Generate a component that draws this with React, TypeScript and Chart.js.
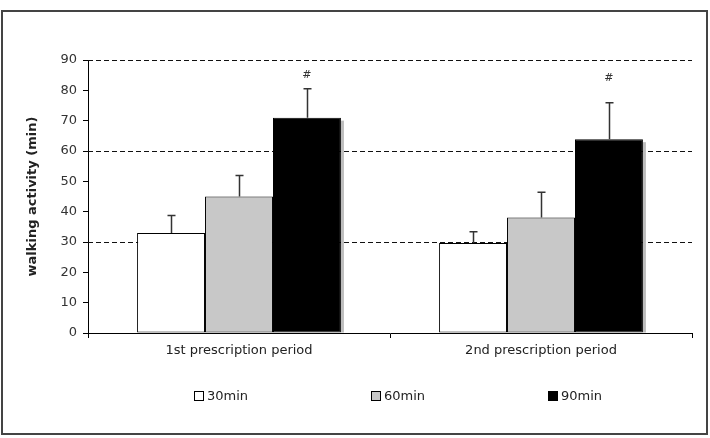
import React, { useEffect, useRef } from "react";
import { Chart, registerables } from "chart.js";

Chart.register(...registerables);

const categories = ["1st prescription period", "2nd prescription period"];
const seriesLabels = ["30min", "60min", "90min"];
const values30 = [33.0, 29.7];
const values60 = [45.0, 38.1];
const values90 = [71.0, 63.9];
const errors30 = [5.7, 3.7];
const errors60 = [6.9, 8.3];
const errors90 = [9.5, 12.0];
const sigMarkY = [85.1, 84.1];
const sigMarkText = ["#", "#"];
const refLines = [30, 60, 90];
const yTicks = [0, 10, 20, 30, 40, 50, 60, 70, 80, 90];

const FONT = "'DejaVu Sans', Verdana, sans-serif";
const barColors = ["#ffffff", "#c8c8c8", "#000000"];
const errorSets = [errors30, errors60, errors90];

const refLinesPlugin = {
  id: "refLines",
  beforeDatasetsDraw(chart: any) {
    const { ctx, chartArea, scales } = chart;
    ctx.save();
    ctx.strokeStyle = "#111";
    ctx.lineWidth = 1;
    ctx.setLineDash([5, 3]);
    refLines.forEach((v) => {
      const y = Math.round(scales.y.getPixelForValue(v)) + 0.5;
      ctx.beginPath();
      ctx.moveTo(chartArea.left, y);
      ctx.lineTo(chartArea.right, y);
      ctx.stroke();
    });
    ctx.restore();
    // shadows on the black bars
    const meta = chart.getDatasetMeta(2);
    ctx.save();
    ctx.fillStyle = "#bdbdbd";
    meta.data.forEach((bar: any) => {
      const right = bar.x + bar.width / 2;
      ctx.fillRect(right, bar.y + 3, 3, bar.base - bar.y - 3);
    });
    ctx.restore();
  },
};

const errorBarPlugin = {
  id: "errorBars",
  afterDatasetsDraw(chart: any) {
    const { ctx, scales } = chart;
    ctx.save();
    ctx.strokeStyle = "#333";
    ctx.lineWidth = 1.5;
    chart.data.datasets.forEach((ds: any, di: number) => {
      const meta = chart.getDatasetMeta(di);
      meta.data.forEach((bar: any, i: number) => {
        const top = scales.y.getPixelForValue(ds.data[i] + errorSets[di][i]);
        const x = Math.round(bar.x) + 0.5;
        ctx.beginPath();
        ctx.moveTo(x, bar.y);
        ctx.lineTo(x, top);
        ctx.moveTo(x - 4, top);
        ctx.lineTo(x + 4, top);
        ctx.stroke();
      });
    });
    // significance marks
    const meta = chart.getDatasetMeta(2);
    ctx.fillStyle = "#333";
    ctx.font = `11px ${FONT}`;
    ctx.textAlign = "center";
    ctx.textBaseline = "middle";
    meta.data.forEach((bar: any, i: number) => {
      ctx.fillText(sigMarkText[i], bar.x, scales.y.getPixelForValue(sigMarkY[i]));
    });
    ctx.restore();
  },
};

const customLegendPlugin = {
  id: "customLegend",
  afterDraw(chart: any) {
    const { ctx, chartArea } = chart;
    ctx.save();
    ctx.font = `13px ${FONT}`;
    ctx.textBaseline = "middle";
    ctx.textAlign = "left";
    const y = chartArea.bottom + 63;
    chart.data.datasets.forEach((ds: any, i: number) => {
      const x = chartArea.left + 106 + i * 177;
      ctx.fillStyle = ds.backgroundColor;
      ctx.fillRect(x, y - 5, 10, 10);
      ctx.strokeStyle = "#000";
      ctx.lineWidth = 1;
      ctx.strokeRect(x + 0.5, y - 4.5, 9, 9);
      ctx.fillStyle = "#222";
      ctx.fillText(ds.label, x + 13, y + 1);
    });
    ctx.restore();
  },
};

export default function App() {
  const ref = useRef<HTMLCanvasElement>(null);
  useEffect(() => {
    if (!ref.current) return;
    const valueSets = [values30, values60, values90];
    const chart = new Chart(ref.current, {
      type: "bar",
      data: {
        labels: categories,
        datasets: seriesLabels.map((label, i) => ({
          label,
          data: valueSets[i],
          backgroundColor: barColors[i],
          borderColor: "#000",
          borderWidth: 1,
          borderSkipped: false,
          categoryPercentage: 0.675,
          barPercentage: 1,
        })),
      },
      options: {
        responsive: false,
        animation: false,
        layout: { padding: { top: 48, right: 14, left: 0, bottom: 0 } },
        plugins: { legend: { display: false }, tooltip: { enabled: false } },
        scales: {
          x: {
            offset: true,
            grid: { display: true, drawOnChartArea: false, tickLength: 5, color: "#000", offset: true },
            border: { display: true, color: "#000", width: 1 },
            ticks: { color: "#222", font: { family: FONT, size: 13 }, padding: 5 },
            afterFit: (s: any) => { s.height = 100; },
          },
          y: {
            min: 0,
            max: 90,
            afterBuildTicks: (s: any) => { s.ticks = yTicks.map((v) => ({ value: v })); },
            grid: { display: true, drawOnChartArea: false, tickLength: 5, color: "#000" },
            border: { display: true, color: "#000", width: 1 },
            ticks: { color: "#333", font: { family: FONT, size: 13 }, padding: 6 },
            title: {
              display: true,
              text: "walking activity (min)",
              color: "#222",
              font: { family: FONT, size: 13, weight: "bold" },
              padding: { top: 22, bottom: 0 },
            },
            afterFit: (s: any) => { s.width = 85; },
          },
        },
      },
      plugins: [refLinesPlugin, errorBarPlugin, customLegendPlugin],
    } as any);
    return () => chart.destroy();
  }, []);
  return (
    <div
      style={{
        position: "absolute",
        left: 1,
        top: 10,
        width: 707,
        height: 425,
        boxSizing: "border-box",
        border: "2px solid #444",
        background: "#fff",
      }}
    >
      <canvas ref={ref} width={703} height={421} style={{ display: "block" }} />
    </div>
  );
}
